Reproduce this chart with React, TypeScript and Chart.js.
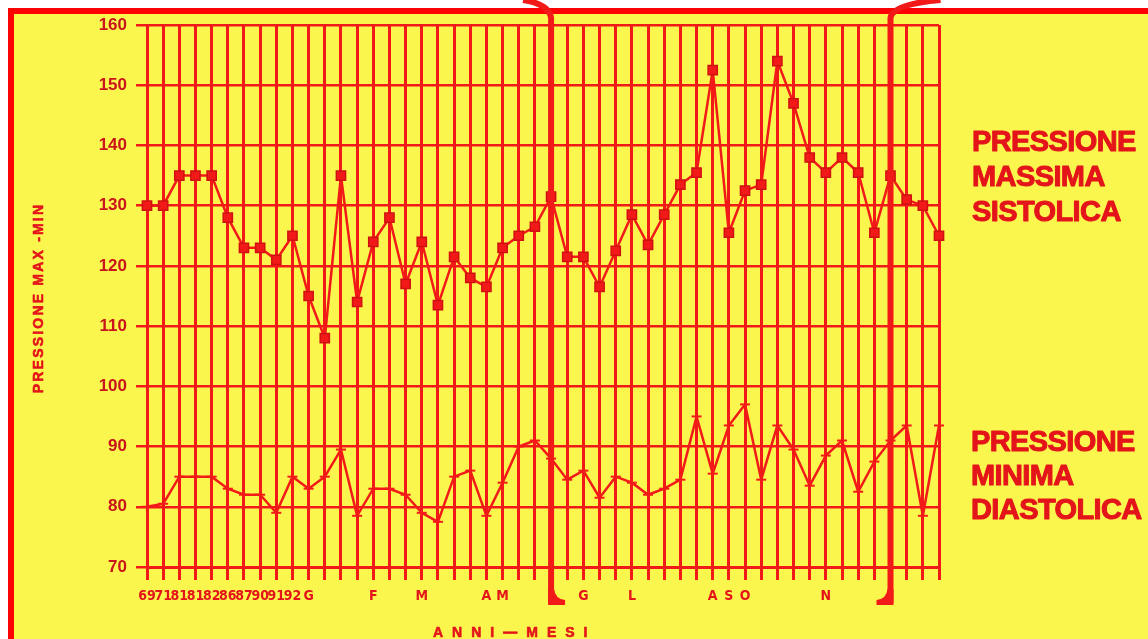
import React, { useEffect, useRef } from 'react';
import { Chart, registerables } from 'chart.js';

Chart.register(...registerables);

// ---- data ----
const categories = [
  '69', '71', '81', '81', '82', '86', '87', '90', '91', '92',
  'G', '', '', '', 'F', '', '', 'M', '', '',
  '', 'A', 'M', '', '', '', '', 'G', '', '',
  'L', '', '', '', '', 'A', 'S', 'O', '', '',
  '', '', 'N', '', '', '', '', '', '', '',
];

const sistolica = [
  130, 130, 135, 135, 135, 128, 123, 123, 121, 125,
  115, 108, 135, 114, 124, 128, 117, 124, 113.5, 121.5,
  118, 116.5, 123, 125, 126.5, 131.5, 121.5, 121.5, 116.5, 122.5,
  128.5, 123.5, 128.5, 133.5, 135.5, 152.5, 125.5, 132.5, 133.5, 154,
  147, 138, 135.5, 138, 135.5, 125.5, 135, 131, 130, 125,
];

const diastolica = [
  80, 80.5, 85, 85, 85, 83, 82, 82, 79, 85,
  83, 85, 89.5, 78.5, 83, 83, 82, 79, 77.5, 85,
  86, 78.5, 84, 90, 91, 88, 84.5, 86, 81.5, 85,
  84, 82, 83, 84.5, 95, 85.5, 93.5, 97, 84.5, 93.5,
  89.5, 83.5, 88.5, 91, 82.5, 87.5, 91, 93.5, 78.5, 93.5,
];

const yMin = 70;
const yMax = 160;
const yStep = 10;

const bracketIndices = [25, 46];
const bracketHookDir = [-1, 1];

const legendSistolica = ['PRESSIONE', 'MASSIMA', 'SISTOLICA'];
const legendDiastolica = ['PRESSIONE', 'MINIMA', 'DIASTOLICA'];
const yTitle = 'PRESSIONE MAX -MIN';
const xTitle = 'ANNI—MESI';

// ---- styles ----
const YELLOW = '#fbf64e';
const RED = '#f21a18';
const TEXT_RED = '#e3141a';
const BOLD = "'Liberation Sans', Arial, sans-serif";
const NARROW = "'Liberation Sans Narrow', 'DejaVu Sans Condensed', 'Liberation Sans', sans-serif";

const framePlugin = {
  id: 'framePlugin',
  beforeDraw(chart: any) {
    const { ctx, width, height } = chart;
    ctx.save();
    ctx.fillStyle = '#ffffff';
    ctx.fillRect(0, 0, width, height);
    ctx.fillStyle = YELLOW;
    ctx.fillRect(8, 8, width - 8, height - 8);
    ctx.fillStyle = '#ff0000';
    ctx.fillRect(8, 8, width - 8, 6);
    ctx.fillRect(8, 8, 6, height - 8);
    ctx.restore();
  },
  afterDatasetsDraw(chart: any) {
    const { ctx } = chart;
    const xs = chart.scales.x;
    const bottom = chart.chartArea.bottom;
    ctx.save();
    ctx.strokeStyle = RED;
    ctx.fillStyle = RED;
    bracketIndices.forEach((idx, i) => {
      const x = xs.getPixelForValue(idx);
      const d = bracketHookDir[i];
      ctx.lineWidth = 6;
      ctx.beginPath();
      ctx.moveTo(x, bottom + 36);
      ctx.lineTo(x, 18);
      ctx.quadraticCurveTo(x + d * 2, 4, x + d * (d < 0 ? 28 : 50), 0);
      ctx.stroke();
      // foot
      ctx.beginPath();
      const fx = -d;
      ctx.moveTo(x - fx * 3, bottom + 22);
      ctx.lineTo(x - fx * 3, bottom + 38);
      ctx.lineTo(x + fx * 14, bottom + 38);
      ctx.lineTo(x + fx * 14, bottom + 33);
      ctx.quadraticCurveTo(x + fx * 4, bottom + 32, x + fx * 3, bottom + 22);
      ctx.closePath();
      ctx.fill();
    });
    ctx.restore();
  },
  afterDraw(chart: any) {
    const { ctx } = chart;
    ctx.save();
    ctx.fillStyle = TEXT_RED;
    ctx.strokeStyle = TEXT_RED;
    ctx.lineJoin = 'round';
    ctx.textAlign = 'left';
    ctx.textBaseline = 'alphabetic';
    ctx.font = `bold 29px ${BOLD}`;
    (ctx as any).letterSpacing = '-0.6px';
    ctx.lineWidth = 1;
    legendSistolica.forEach((t, i) => {
      ctx.fillText(t, 972, 151 + i * 35);
      ctx.strokeText(t, 972, 151 + i * 35);
    });
    legendDiastolica.forEach((t, i) => {
      ctx.fillText(t, 971, 451 + i * 34);
      ctx.strokeText(t, 971, 451 + i * 34);
    });

    // x title
    ctx.font = `bold 14px ${BOLD}`;
    (ctx as any).letterSpacing = '9px';
    ctx.lineWidth = 0.6;
    ctx.fillText(xTitle, 433, 637);
    ctx.strokeText(xTitle, 433, 637);

    // y title
    ctx.translate(43, 298);
    ctx.rotate(-Math.PI / 2);
    ctx.textAlign = 'center';
    ctx.font = `bold 14px ${BOLD}`;
    (ctx as any).letterSpacing = '2.2px';
    ctx.fillText(yTitle, 0, 0);
    ctx.strokeText(yTitle, 0, 0);
    (ctx as any).letterSpacing = '0px';
    ctx.restore();
  },
};

export default function App() {
  const ref = useRef<HTMLCanvasElement>(null);

  useEffect(() => {
    if (!ref.current) return;
    const chart = new Chart(ref.current, {
      type: 'line',
      data: {
        labels: categories,
        datasets: [
          {
            label: 'Pressione massima sistolica',
            data: sistolica,
            borderColor: RED,
            backgroundColor: RED,
            borderWidth: 2.5,
            pointStyle: 'rect',
            pointRadius: 6.5,
            pointBackgroundColor: RED,
            pointBorderColor: '#d01010',
            pointBorderWidth: 1.5,
            tension: 0,
          },
          {
            label: 'Pressione minima diastolica',
            data: diastolica,
            borderColor: RED,
            backgroundColor: RED,
            borderWidth: 2.5,
            pointStyle: 'line',
            pointRadius: 5,
            pointBorderColor: RED,
            pointBorderWidth: 2,
            tension: 0,
          },
        ],
      },
      options: {
        animation: false,
        responsive: false,
        devicePixelRatio: 1,
        layout: { padding: { left: 0, right: 209, top: 25, bottom: 0 } },
        plugins: {
          legend: { display: false },
          tooltip: { enabled: false },
          title: { display: false },
        },
        scales: {
          x: {
            type: 'category',
            offset: false,
            afterFit(scale: any) {
              scale.height = 72;
            },
            grid: {
              color: RED,
              lineWidth: 3,
              tickLength: 13,
              drawTicks: true,
            },
            border: { color: RED, width: 3 },
            ticks: {
              autoSkip: false,
              maxRotation: 0,
              minRotation: 0,
              padding: 8,
              color: TEXT_RED,
              font: { family: NARROW, weight: 'bold', size: 14 },
            },
          },
          y: {
            min: yMin,
            max: yMax,
            afterFit(scale: any) {
              scale.width = 147;
            },
            grid: {
              color: RED,
              lineWidth: 2.5,
              tickLength: 11,
            },
            border: { color: RED, width: 3 },
            ticks: {
              stepSize: yStep,
              padding: 9,
              color: '#c8141a',
              font: { family: BOLD, weight: 'bold', size: 17 },
            },
          },
        },
      },
      plugins: [framePlugin],
    } as any);
    return () => chart.destroy();
  }, []);

  return (
    <canvas
      ref={ref}
      width={1148}
      height={639}
      style={{ position: 'fixed', left: 0, top: 0, width: 1148, height: 639 }}
    />
  );
}
